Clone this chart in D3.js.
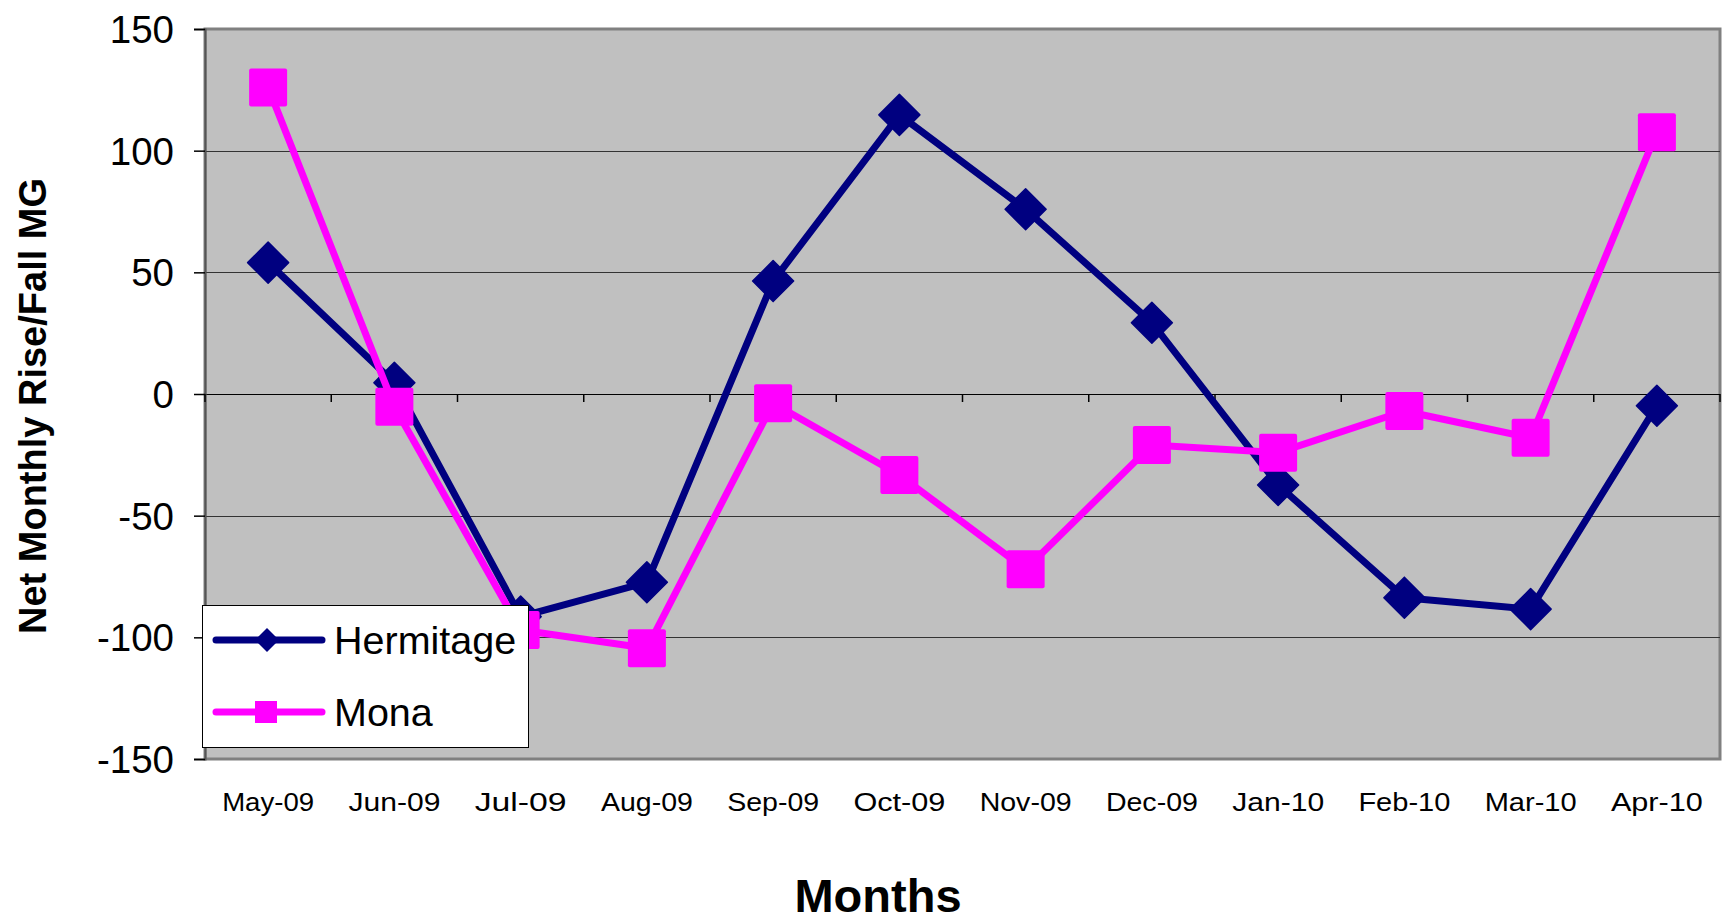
<!DOCTYPE html>
<html><head><meta charset="utf-8">
<script src="https://cdn.jsdelivr.net/npm/d3@7"></script>
<style>html,body{margin:0;padding:0;background:#fff;}svg{display:block;font-family:Arial,"Liberation Sans",sans-serif;}</style>
</head><body>
<svg id="c" width="1722" height="923"></svg>
<script>
const months = ["May-09","Jun-09","Jul-09","Aug-09","Sep-09","Oct-09","Nov-09","Dec-09","Jan-10","Feb-10","Mar-10","Apr-10"];
const hermitage = [54, 4.6, -91.5, -77.4, 46.4, 114.7, 75.9, 29.3, -37.4, -83.7, -88.4, -4.8];
const mona = [126, -5.2, -97, -104.5, -3.8, -33.3, -72, -21, -24.1, -7, -18, 107.6];
const yTicks = [-150, -100, -50, 0, 50, 100, 150];
const seriesNames = ["Hermitage", "Mona"];

const svg = d3.select("#c");
const L = 205, R = 1720, T = 29, B = 759;
const x = d3.scaleBand().domain(months).range([L, R]).padding(0);
const y = d3.scaleLinear().domain([-150, 150]).range([B, T]);

// plot area
svg.append("rect").attr("x", L).attr("y", T).attr("width", R - L).attr("height", B - T)
  .attr("fill", "#C0C0C0").attr("stroke", "#808080").attr("stroke-width", 3);

// gridlines
svg.append("g").selectAll("line").data(yTicks.filter(d => d !== -150 && d !== 150)).join("line")
  .attr("x1", L).attr("x2", R)
  .attr("y1", d => Math.round(y(d)) + 0.5).attr("y2", d => Math.round(y(d)) + 0.5)
  .attr("stroke", d => d === 0 ? "#000" : "#333").attr("stroke-width", 1.2);

// y axis
const yAxis = d3.axisLeft(y).tickValues(yTicks).tickSize(11).tickPadding(20).tickFormat(d => String(d));
const gy = svg.append("g").attr("transform", `translate(${L},0)`).call(yAxis);
gy.select(".domain").attr("stroke", "#555").attr("stroke-width", 2);
gy.selectAll(".tick line").attr("stroke", "#000").attr("stroke-width", 1.5);
gy.selectAll(".tick text").attr("font-size", 38.5).attr("fill", "#000")
  .attr("font-family", "Arial, 'Liberation Sans', sans-serif").attr("dy", "0.35em");

// x axis at zero: ticks on band boundaries
const bounds = months.map(m => x(m)).concat([R]);
svg.append("g").selectAll("line").data(bounds).join("line")
  .attr("x1", d => d).attr("x2", d => d).attr("y1", y(0)).attr("y2", y(0) + 8)
  .attr("stroke", "#000").attr("stroke-width", 1.5);

// x labels
svg.append("g").selectAll("text").data(months).join("text")
  .attr("x", d => x(d) + x.bandwidth() / 2).attr("y", 811)
  .attr("text-anchor", "middle").attr("font-size", 25).attr("fill", "#000")
  .attr("textLength", 92).attr("lengthAdjust", "spacingAndGlyphs")
  .text(d => d);

// axis titles
svg.append("text").attr("x", 878).attr("y", 912).attr("text-anchor", "middle")
  .attr("font-size", 47).attr("font-weight", "bold").text("Months");
svg.append("text").attr("transform", "translate(46,406) rotate(-90)").attr("text-anchor", "middle")
  .attr("font-size", 38).attr("font-weight", "bold").text("Net Monthly Rise/Fall MG");

// series
const line = d3.line().x((d, i) => x(months[i]) + x.bandwidth() / 2).y(d => y(d));
const colors = ["#000080", "#FF00FF"];
const data = [hermitage, mona];
const diamond = (cx, cy, r) => `M${cx},${cy - r}L${cx + r},${cy}L${cx},${cy + r}L${cx - r},${cy}Z`;

data.forEach((vals, si) => {
  const g = svg.append("g");
  g.append("path").attr("d", line(vals)).attr("fill", "none").attr("stroke", colors[si])
    .attr("stroke-width", 7).attr("stroke-linejoin", "round");
  if (si === 0) {
    g.selectAll("path.m").data(vals).join("path").attr("class", "m")
      .attr("d", (d, i) => diamond(x(months[i]) + x.bandwidth() / 2, y(d), 20.5))
      .attr("fill", colors[si]).attr("stroke", colors[si]).attr("stroke-width", 1.5).attr("stroke-linejoin", "round");
  } else {
    g.selectAll("rect.m").data(vals).join("rect").attr("class", "m")
      .attr("x", (d, i) => x(months[i]) + x.bandwidth() / 2 - 19).attr("y", d => y(d) - 19)
      .attr("width", 38).attr("height", 38).attr("rx", 2).attr("fill", colors[si]);
  }
});

// legend
const lg = svg.append("g");
lg.append("rect").attr("x", 202.5).attr("y", 605.5).attr("width", 326).attr("height", 142)
  .attr("fill", "#fff").attr("stroke", "#000").attr("stroke-width", 1);
seriesNames.forEach((n, i) => {
  const cy = 640 + i * 72;
  lg.append("line").attr("x1", 216).attr("x2", 322).attr("y1", cy).attr("y2", cy)
    .attr("stroke", colors[i]).attr("stroke-width", 7).attr("stroke-linecap", "round");
  if (i === 0) {
    lg.append("path").attr("d", diamond(267, cy, 12)).attr("fill", colors[i]);
  } else {
    lg.append("rect").attr("x", 255).attr("y", cy - 11).attr("width", 22).attr("height", 22).attr("fill", colors[i]);
  }
  lg.append("text").attr("x", 334).attr("y", cy).attr("dy", "0.35em").attr("font-size", 39.5)
    .attr("fill", "#000").text(n);
});
</script>
</body></html>
